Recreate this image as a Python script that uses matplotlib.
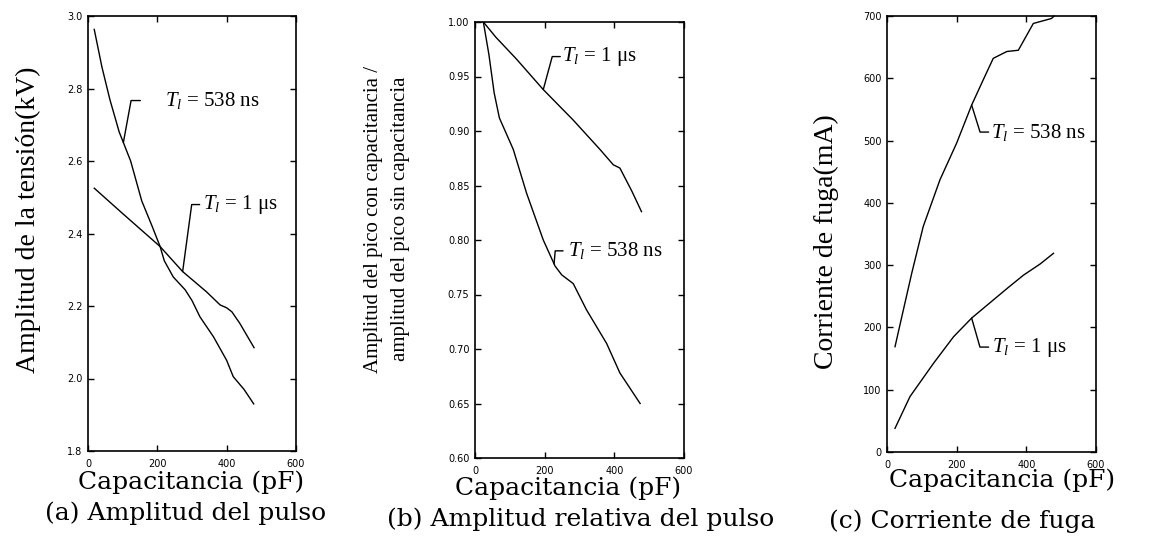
import numpy as np
import matplotlib
matplotlib.use("Agg")
import matplotlib.pyplot as plt

plt.rcParams['font.family'] = ['Liberation Serif', 'DejaVu Serif']
plt.rcParams['mathtext.fontset'] = 'custom'
plt.rcParams['mathtext.rm'] = 'Liberation Serif'
plt.rcParams['mathtext.it'] = 'Liberation Serif:italic'

# ---------------- data ----------------
# (a) Amplitud del pulso (kV)
a538_x = [18, 40, 63, 90, 123, 155, 185, 208, 220, 246, 280, 300, 323, 362, 400, 419, 450, 478]
a538_y = [2.963, 2.86, 2.77, 2.68, 2.60, 2.49, 2.42, 2.364, 2.325, 2.28, 2.245, 2.215, 2.17, 2.115, 2.05, 2.005, 1.97, 1.93]
a1us_x = [18, 100, 208, 273, 342, 381, 400, 415, 438, 479]
a1us_y = [2.525, 2.455, 2.364, 2.295, 2.239, 2.203, 2.195, 2.184, 2.152, 2.085]

# (b) Amplitud relativa
b1us_x = [24, 60, 119, 196, 282, 359, 397, 416, 450, 478]
b1us_y = [1.0, 0.986, 0.966, 0.938, 0.910, 0.883, 0.869, 0.866, 0.845, 0.826]
b538_x = [24, 40, 55, 70, 110, 148, 196, 230, 249, 282, 320, 378, 416, 474]
b538_y = [1.0, 0.970, 0.935, 0.912, 0.883, 0.843, 0.800, 0.776, 0.768, 0.760, 0.736, 0.705, 0.678, 0.650]

# (c) Corriente de fuga (mA)
c538_x = [23, 40, 71, 104, 152, 200, 243, 275, 305, 344, 377, 400, 420, 472, 480]
c538_y = [169, 211, 287, 362, 437, 496, 557, 596, 632, 643, 645, 668, 688, 696, 700]
c1us_x = [23, 66, 133, 191, 243, 305, 350, 392, 440, 478]
c1us_y = [38, 89, 142, 185, 215, 244, 265, 284, 302, 319]

xticks = [0, 200, 400, 600]
a_yticks = [1.8, 2.0, 2.2, 2.4, 2.6, 2.8, 3.0]
b_yticks = [0.60, 0.65, 0.70, 0.75, 0.80, 0.85, 0.90, 0.95, 1.00]
c_yticks = [0, 100, 200, 300, 400, 500, 600, 700]

lbl538 = r'$T_{l}$ = 538 ns'
lbl1us = r'$T_{l}$ = 1 μs'
xlabel = 'Capacitancia (pF)'
captions = ['(a) Amplitud del pulso', '(b) Amplitud relativa del pulso', '(c) Corriente de fuga']

# ---------------- figure ----------------
W, H = 1149, 536
fig = plt.figure(figsize=(W / 100, H / 100), dpi=100)


def px_axes(l, r, t, b):
    return fig.add_axes([l / W, 1 - b / H, (r - l) / W, (b - t) / H])


axa = px_axes(88, 296, 16, 451)
axb = px_axes(475, 684, 22, 458)
axc = px_axes(887, 1096, 16, 452)


def style(ax, yticks, fmt):
    ax.set_xlim(0, 600)
    ax.set_ylim(yticks[0], yticks[-1])
    ax.set_xticks(xticks)
    ax.set_yticks(yticks)
    ax.set_yticklabels([fmt.format(v) for v in yticks])
    ax.tick_params(direction='in', top=True, right=True, length=4, width=1.0,
                   labelsize=7)
    ax.tick_params(axis='x', pad=6)
    ax.tick_params(axis='y', pad=4)
    for lab in ax.get_xticklabels() + ax.get_yticklabels():
        lab.set_fontfamily('DejaVu Sans')
    for s in ax.spines.values():
        s.set_linewidth(1.2)


style(axa, a_yticks, '{:.1f}')
style(axb, b_yticks, '{:.2f}')
style(axc, c_yticks, '{:.0f}')

lw = 1.0
axa.plot(a538_x, a538_y, color='k', lw=lw)
axa.plot(a1us_x, a1us_y, color='k', lw=lw)
axb.plot(b1us_x, b1us_y, color='k', lw=lw)
axb.plot(b538_x, b538_y, color='k', lw=lw)
axc.plot(c538_x, c538_y, color='k', lw=lw, clip_on=False)
axc.plot(c1us_x, c1us_y, color='k', lw=lw)


def leader(ax, xs, ys, x0, stub, dy, angle, text, tdx):
    y0 = np.interp(x0, xs, ys)
    ax.annotate('', xy=(x0, y0), xytext=(stub, dy), textcoords='offset pixels',
                arrowprops=dict(arrowstyle='-', lw=1.0, color='k', shrinkA=0, shrinkB=0,
                                connectionstyle=f'angle,angleA=0,angleB={angle},rad=0'))
    ax.annotate(text, xy=(x0, y0), xytext=(tdx, dy), textcoords='offset pixels',
                va='center', ha='left', fontsize=15)


leader(axa, a538_x, a538_y, 102, 17, 42, 79.6, lbl538, 42)
leader(axa, a1us_x, a1us_y, 273, 17, 67, 82.3, lbl1us, 20)
leader(axb, b1us_x, b1us_y, 196, 17, 33, 74.8, lbl1us, 19)
leader(axb, b538_x, b538_y, 227, 9, 13, 85, lbl538, 14)
leader(axc, c538_x, c538_y, 243, 17, -27, -72.7, lbl538, 19)
leader(axc, c1us_x, c1us_y, 243, 17, -29, -74, lbl1us, 20)

# y labels
axa.set_ylabel('Amplitud de la tensión(kV)', fontsize=20)
axa.yaxis.label.set_va('center')
axa.yaxis.set_label_coords(-0.288, 0.531)

axb.set_ylabel('Amplitud del pico con capacitancia /\namplitud del pico sin capacitancia',
               fontsize=15, linespacing=1.6)
axb.yaxis.label.set_va('center')
axb.yaxis.set_label_coords(-0.421, 0.548)

axc.set_ylabel('Corriente de fuga(mA)', fontsize=20)
axc.yaxis.label.set_va('center')
axc.yaxis.set_label_coords(-0.292, 0.482)

# x labels
for ax, xc, yc in [(axa, 0.497, -0.072), (axb, 0.447, -0.069), (axc, 0.55, -0.065)]:
    ax.set_xlabel(xlabel, fontsize=18, fontfamily='DejaVu Serif')
    ax.xaxis.label.set_va('center')
    ax.xaxis.set_label_coords(xc, yc)

# captions
for cap, xc, yc in zip(captions, [186, 581, 962], [513, 519, 521]):
    fig.text(xc / W, 1 - yc / H, cap, ha='center', va='center', fontsize=18,
             fontfamily='DejaVu Serif')

fig.savefig('out.png', dpi=100)
